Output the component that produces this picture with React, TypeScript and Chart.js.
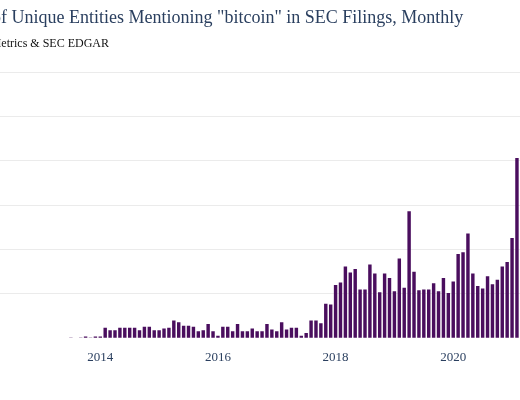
import React, { useEffect, useRef } from "react";
import { Chart, registerables } from "chart.js";

Chart.register(...registerables);

// ---- data ----
const TITLE = 'Number of Unique Entities Mentioning "bitcoin" in SEC Filings, Monthly';
const SUBTITLE = "Source: Coin Metrics & SEC EDGAR";

const BASE_YEAR = 2013;
const YEAR_TICKS = [2014, 2016, 2018, 2020];

const VALUES_2013 = [1, 0, 1, 2, 1, 2]; // Jul..Dec
const VALUES_2014 = [2, 12, 9, 9, 12, 12, 12, 12, 9, 13, 13, 9];
const VALUES_2015 = [9, 11, 12, 20, 18, 14, 14, 13, 8, 9, 16, 8];
const VALUES_2016 = [3, 13, 13, 8, 16, 8, 8, 11, 8, 8, 16, 10];
const VALUES_2017 = [8, 18, 10, 12, 12, 3, 6, 20, 20, 17, 39, 38];
const VALUES_2018 = [60, 63, 81, 74, 78, 55, 55, 83, 73, 52, 73, 68];
const VALUES_2019 = [53, 90, 57, 143, 75, 54, 55, 55, 62, 53, 68, 51];
const VALUES_2020 = [64, 95, 97, 118, 73, 59, 56, 70, 61, 66, 81, 86];
const VALUES_2021 = [113, 203]; // Jan..Feb

// [year, first month (1-12), values]
const YEAR_ROWS: [number, number, number[]][] = [
  [2013, 7, VALUES_2013],
  [2014, 1, VALUES_2014],
  [2015, 1, VALUES_2015],
  [2016, 1, VALUES_2016],
  [2017, 1, VALUES_2017],
  [2018, 1, VALUES_2018],
  [2019, 1, VALUES_2019],
  [2020, 1, VALUES_2020],
  [2021, 1, VALUES_2021],
];

const Y_MAX = 300;
const Y_STEP = 50;

// ---- layout / style ----
const BAR_COLOR = "rgb(74, 14, 94)";
const GRID_COLOR = "#ebebeb";
const TEXT_COLOR = "#2a3f5f";
const SERIF = "'Liberation Serif', 'Times New Roman', serif";
const X_MIN = -10.5;
const X_MAX = 101.7;

function buildPoints() {
  const pts: { x: number; y: number }[] = [];
  YEAR_ROWS.forEach(([year, first, values]) => {
    values.forEach((v, i) => {
      pts.push({ x: (year - BASE_YEAR) * 12 + (first - 1) + i, y: v });
    });
  });
  return pts;
}

export default function App() {
  const canvasRef = useRef<HTMLCanvasElement | null>(null);

  useEffect(() => {
    document.body.style.margin = "0";
    const canvas = canvasRef.current;
    if (!canvas) return;
    const chart = new Chart(canvas, {
      type: "bar",
      data: {
        datasets: [
          {
            data: buildPoints() as any,
            backgroundColor: BAR_COLOR,
            borderWidth: 0,
            barPercentage: 0.7,
            categoryPercentage: 1,
          },
        ],
      },
      options: {
        animation: false,
        responsive: true,
        maintainAspectRatio: false,
        layout: { padding: { top: 72, left: 0, right: 0, bottom: 0 } },
        plugins: { legend: { display: false }, tooltip: { enabled: false }, title: { display: false } },
        scales: {
          x: {
            type: "linear",
            min: X_MIN,
            max: X_MAX,
            offset: false,
            grid: { display: false },
            border: { display: false },
            afterBuildTicks: (axis: any) => {
              axis.ticks = YEAR_TICKS.map((yr) => ({ value: (yr - BASE_YEAR) * 12 }));
            },
            afterFit: (axis: any) => {
              axis.height = 61.7;
            },
            ticks: {
              autoSkip: false,
              maxRotation: 0,
              padding: 3,
              color: TEXT_COLOR,
              font: { family: SERIF, size: 13 },
              callback: (v: any) => String(BASE_YEAR + Number(v) / 12),
            },
          },
          y: {
            min: 0,
            max: Y_MAX,
            border: { display: false },
            afterFit: (axis: any) => {
              axis.width = 50;
            },
            grid: {
              color: (ctx: any) => (ctx.tick && ctx.tick.value === 0 ? "rgba(0,0,0,0)" : GRID_COLOR),
              lineWidth: 1,
              drawTicks: false,
            },
            ticks: {
              stepSize: Y_STEP,
              color: TEXT_COLOR,
              font: { family: SERIF, size: 13 },
            },
          },
        },
      },
    });
    return () => chart.destroy();
  }, []);

  return (
    <>
      <div
        style={{
          position: "fixed",
          left: -60,
          top: 0,
          width: 600,
          height: 400,
        }}
      >
        <canvas ref={canvasRef} />
      </div>
      <div
        style={{
          position: "fixed",
          left: 463.3,
          top: 8.4,
          transform: "translateX(-100%)",
          whiteSpace: "nowrap",
          fontFamily: SERIF,
          fontSize: 18,
          lineHeight: "18px",
          color: TEXT_COLOR,
        }}
      >
        {TITLE}
      </div>
      <div
        style={{
          position: "fixed",
          left: 109,
          top: 36.5,
          transform: "translateX(-100%)",
          whiteSpace: "nowrap",
          fontFamily: SERIF,
          fontSize: 12,
          lineHeight: "12px",
          color: "#111",
        }}
      >
        {SUBTITLE}
      </div>
    </>
  );
}
